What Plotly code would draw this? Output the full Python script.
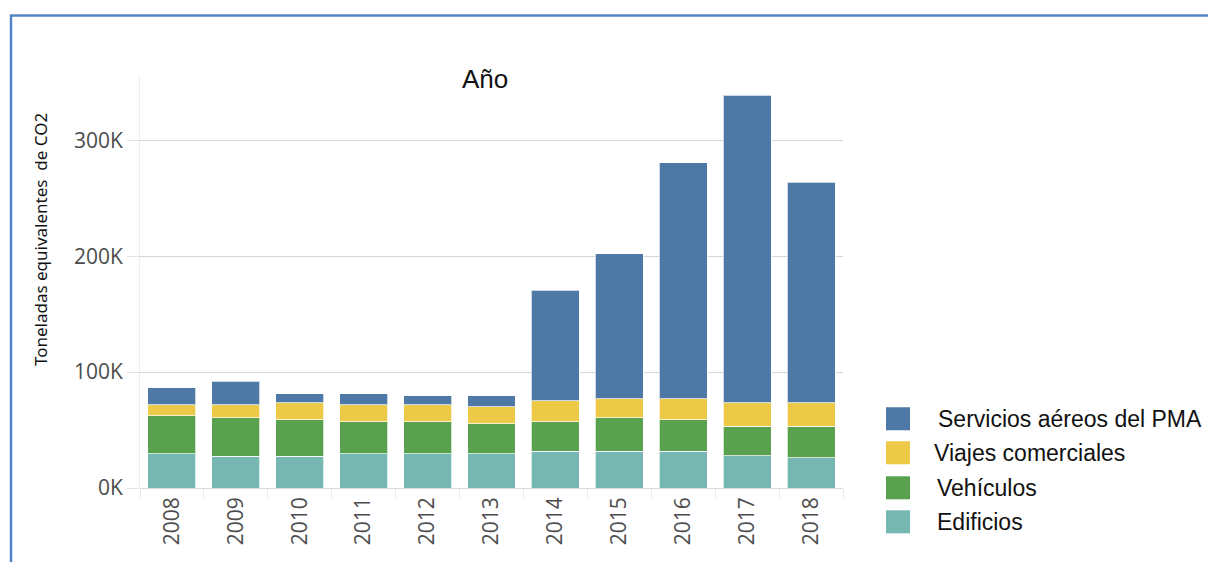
import plotly.graph_objects as go

years = ["2008", "2009", "2010", "2011", "2012", "2013", "2014", "2015", "2016", "2017", "2018"]
edificios = [29700, 27600, 27600, 29700, 29700, 29700, 31700, 31700, 31700, 28000, 26300]
vehiculos = [32800, 33200, 31500, 27600, 27600, 25900, 25600, 29100, 27400, 25500, 27200]
viajes = [9500, 11200, 14600, 14700, 14700, 14300, 18200, 16400, 18100, 20200, 20200]
servicios = [14700, 20100, 7500, 9200, 7400, 9500, 95200, 124800, 203500, 265300, 190300]

series_names = ["Edificios", "Vehículos", "Viajes comerciales", "Servicios aéreos del PMA"]
series_values = [edificios, vehiculos, viajes, servicios]
colors = ["#76b7b2", "#59a14f", "#edc948", "#4e79a7"]

y_ticks = [0, 100000, 200000, 300000]
y_tick_labels = ["0K", "100K", "200K", "300K"]

W, H = 1208, 562
L, R, T, B = 140, 843, 76, 487.7  # plot area in screen coordinates


def px(x):
    return (x - L) / (R - L)


def py(y):
    return (B - y) / (B - T)


fig = go.Figure()
for name, vals, col in zip(series_names, series_values, colors):
    fig.add_trace(go.Bar(
        x=years, y=vals, name=name,
        marker=dict(color=col, line=dict(color="rgba(255,255,255,0.7)", width=1)),
        showlegend=False,
    ))

shapes = []
annotations = []

# Page border (blue)
border_col = "#5384c6"
shapes.append(dict(type="line", xref="paper", yref="paper",
                   x0=px(11), x1=px(11), y0=py(15), y1=py(580),
                   line=dict(color=border_col, width=2.5)))
shapes.append(dict(type="line", xref="paper", yref="paper",
                   x0=px(10), x1=px(1230), y0=py(15.5), y1=py(15.5),
                   line=dict(color=border_col, width=2.5)))

# Custom legend (top item = Servicios)
legend_rows = [
    ("Servicios aéreos del PMA", "#4e79a7", 418.5, 936),
    ("Viajes comerciales", "#edc948", 452.5, 932),
    ("Vehículos", "#59a14f", 487.5, 935),
    ("Edificios", "#76b7b2", 521.5, 935),
]
for text, col, yc, xt in legend_rows:
    shapes.append(dict(type="rect", xref="paper", yref="paper",
                       x0=px(886), x1=px(910), y0=py(yc - 11.5), y1=py(yc + 11.5),
                       fillcolor=col, line=dict(width=0)))
    annotations.append(dict(xref="paper", yref="paper", x=px(xt), y=py(yc),
                            text=text, showarrow=False, xanchor="left", yanchor="middle",
                            font=dict(family="Liberation Sans", size=23, color="#111111")))

# Title
annotations.append(dict(xref="paper", yref="paper", x=px(485), y=py(79),
                        text="Año", showarrow=False, xanchor="center", yanchor="middle",
                        font=dict(family="Liberation Sans", size=26, color="#111111")))
# Y axis title
annotations.append(dict(xref="paper", yref="paper", x=px(40), y=py(240),
                        text="Toneladas equivalentes  de CO2", showarrow=False,
                        textangle=-90, xanchor="center", yanchor="middle",
                        font=dict(family="Noto Sans", size=17, color="#111111")))

fig.update_layout(
    width=W, height=H,
    margin=dict(l=L, r=W - R, t=T, b=H - B, pad=0),
    paper_bgcolor="white", plot_bgcolor="white",
    barmode="stack", bargap=0.25,
    shapes=shapes, annotations=annotations,
    showlegend=False,
    xaxis=dict(
        type="category", tickangle=-90, ticks="outside", tickson="boundaries",
        ticklen=10, tickcolor="#ebebeb", showgrid=False, showline=False,
        ticklabelstandoff=4,
        tickfont=dict(family="Open Sans", size=21, color="#4d4d4d"),
    ),
    yaxis=dict(
        range=[0, 355500], tickvals=y_ticks, ticktext=y_tick_labels,
        ticks="outside", ticklen=12, tickcolor="#e3e3e3",
        showgrid=True, gridcolor="#d6d6d6", gridwidth=1.3,
        zeroline=True, zerolinecolor="#d9d9d9", zerolinewidth=1.3,
        showline=True, linecolor="#ececec", linewidth=1,
        tickfont=dict(family="Open Sans", size=21, color="#4d4d4d"),
    ),
)

fig.write_html(
    "out.html",
    config={"displayModeBar": False},
    post_script="document.body.style.margin='0';document.body.style.overflow='hidden';",
)
